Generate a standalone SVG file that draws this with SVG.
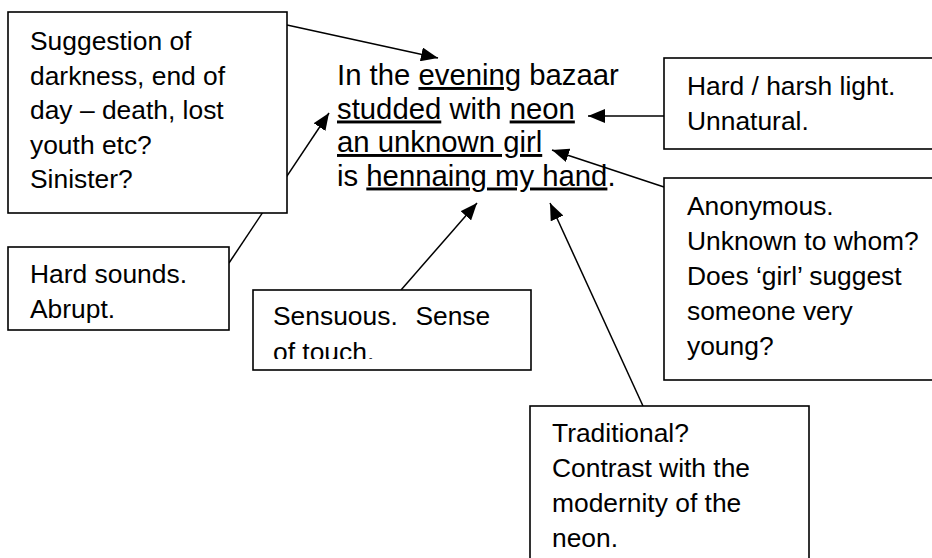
<svg xmlns="http://www.w3.org/2000/svg" width="932" height="558" viewBox="0 0 932 558">
<defs>
<style>
.box{fill:#fff;stroke:#000;stroke-width:1.6}
.t{font-family:"Liberation Sans",Arial,sans-serif;font-size:26.4px;fill:#000}
.poem{font-family:"Liberation Sans",Arial,sans-serif;font-size:29.3px;fill:#000}
.u{text-decoration:underline}
.c{stroke:#000;stroke-width:1.5;fill:none;marker-end:url(#ah)}
</style>
<marker id="ah" markerUnits="userSpaceOnUse" markerWidth="18" markerHeight="14" refX="17" refY="7" orient="auto">
<path d="M0,0 L17,7 L0,14 Z" fill="#000"/>
</marker>
<clipPath id="clipS"><rect x="253" y="290" width="278" height="69"/></clipPath>
</defs>
<rect width="932" height="558" fill="#fff"/>
<g id="connectors">
<line class="c" x1="287" y1="25" x2="438" y2="58"/>
<line class="c" x1="229" y1="263" x2="329" y2="113"/>
<line class="c" x1="664" y1="116" x2="588" y2="116"/>
<line class="c" x1="664" y1="187" x2="552" y2="150"/>
<line class="c" x1="401" y1="290" x2="477" y2="203"/>
<line class="c" x1="643" y1="406" x2="550" y2="203"/>
</g>
<g id="poem">
<text class="poem" x="337" y="85">In the <tspan class="u">evening</tspan> bazaar</text>
<text class="poem" x="337" y="118.5"><tspan class="u">studded</tspan> with <tspan class="u">neon</tspan></text>
<text class="poem" x="337" y="152"><tspan class="u">an unknown girl</tspan></text>
<text class="poem" x="337" y="185.5">is <tspan class="u">hennaing my hand</tspan>.</text>
</g>
<g id="box-darkness">
<rect class="box" x="8" y="12" width="279" height="201"/>
<text class="t" x="30" y="50">Suggestion of</text>
<text class="t" x="30" y="84.5">darkness, end of</text>
<text class="t" x="30" y="119">day – death, lost</text>
<text class="t" x="30" y="153.5">youth etc?</text>
<text class="t" x="30" y="188">Sinister?</text>
</g>
<g id="box-hard-sounds">
<rect class="box" x="8" y="247" width="221" height="83"/>
<text class="t" x="30" y="283">Hard sounds.</text>
<text class="t" x="30" y="318">Abrupt.</text>
</g>
<g id="box-sensuous">
<rect class="box" x="253" y="290" width="278" height="80"/>
<g clip-path="url(#clipS)">
<text class="t" x="273" y="325" xml:space="preserve">Sensuous.  <tspan dx="3">Sense</tspan></text>
<text class="t" x="273" y="361">of touch.</text>
</g>
</g>
<g id="box-harsh-light">
<rect class="box" x="664" y="58" width="280" height="91"/>
<text class="t" x="687" y="95">Hard / harsh light.</text>
<text class="t" x="687" y="130">Unnatural.</text>
</g>
<g id="box-anonymous">
<rect class="box" x="664" y="178" width="280" height="202"/>
<text class="t" x="687" y="215">Anonymous.</text>
<text class="t" x="687" y="250">Unknown to whom?</text>
<text class="t" x="687" y="285">Does ‘girl’ suggest</text>
<text class="t" x="687" y="320">someone very</text>
<text class="t" x="687" y="355">young?</text>
</g>
<g id="box-traditional">
<rect class="box" x="530" y="406" width="279" height="170"/>
<text class="t" x="552" y="442">Traditional?</text>
<text class="t" x="552" y="477">Contrast with the</text>
<text class="t" x="552" y="512">modernity of the</text>
<text class="t" x="552" y="547">neon.</text>
</g>
</svg>
